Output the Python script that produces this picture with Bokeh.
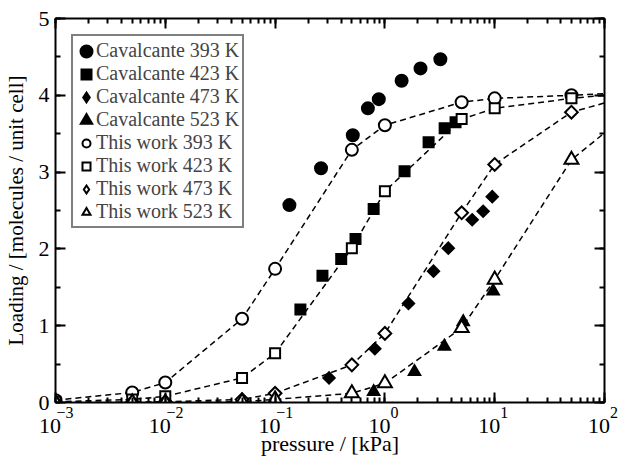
from bokeh.plotting import figure
from bokeh.models import (LogAxis, LinearAxis, LogTicker, SingleIntervalTicker, Range1d,
                          Legend, LegendItem, CustomJSTickFormatter)
from bokeh.embed import file_html
from bokeh.resources import INLINE
import math

FONT = "Liberation Serif"

# Cavalcante experimental isotherms: pressure [kPa], loading [molecules / unit cell]
cav_393_p = [0.135, 0.262, 0.51, 0.70, 0.88, 1.42, 2.11, 3.2]
cav_393_q = [2.57, 3.05, 3.48, 3.83, 3.95, 4.19, 4.35, 4.47]
cav_423_p = [0.17, 0.27, 0.40, 0.54, 0.79, 1.51, 2.5, 3.5, 4.4]
cav_423_q = [1.21, 1.65, 1.87, 2.13, 2.52, 3.01, 3.39, 3.57, 3.65]
cav_473_p = [0.31, 0.81, 1.64, 2.77, 3.78, 6.24, 7.85, 9.5]
cav_473_q = [0.32, 0.70, 1.29, 1.71, 2.01, 2.38, 2.49, 2.68]
cav_523_p = [0.79, 1.86, 3.48, 5.17, 9.68]
cav_523_q = [0.14, 0.40, 0.73, 1.05, 1.45]

# simulated isotherms (this work), common pressure grid
sim_p = [0.001, 0.005, 0.01, 0.05, 0.1, 0.5, 1, 5, 10, 50]
sim_393_q = [0.03, 0.13, 0.26, 1.09, 1.74, 3.29, 3.61, 3.91, 3.96, 4.00]
sim_423_q = [0.01, 0.04, 0.08, 0.32, 0.64, 2.01, 2.75, 3.69, 3.83, 3.96]
sim_473_q = [0.00, 0.005, 0.01, 0.04, 0.12, 0.49, 0.90, 2.47, 3.10, 3.78]
sim_523_q = [0.00, 0.00, 0.00, 0.01, 0.04, 0.12, 0.25, 0.97, 1.60, 3.16]

# the dashed guide lines continue to 100 kPa
line_end_p = 100
line_end_393 = 4.02
line_end_423 = 4.00
line_end_473 = 3.90
line_end_523 = 3.51

# x tick labels: base "10" with superscript exponent
decades = [1e-3, 1e-2, 1e-1, 1e0, 1e1, 1e2]
tick_base = ["10", "10", "10", "10", "10", "10"]
exponents = ["\u22123", "\u22122", "\u22121", "0", "1", "2"]

p = figure(width=621, height=458, x_axis_type="log",
           x_range=Range1d(1e-3, 1e2), y_range=Range1d(0, 5),
           output_backend="svg", toolbar_location=None,
           min_border_left=52, min_border_right=17,
           min_border_top=18, min_border_bottom=55)
p.xgrid.visible = False
p.ygrid.visible = False
p.outline_line_color = None
p.background_fill_color = "white"
p.border_fill_color = "white"

xticker = LogTicker(desired_num_ticks=6, num_minor_ticks=10)
yticker = SingleIntervalTicker(interval=1, num_minor_ticks=2)

# labels are centred on their tick; the pads move the base a little to the
# left of the tick and the exponent to its right
lookup_code = """
const k = Math.log10(tick);
for (let i = 0; i < dec.length; i++) {
  if (Math.abs(Math.log10(dec[i]) - k) < 1e-6) return before + lab[i] + after;
}
return "";
"""


def style_axis(ax, show_labels):
    ax.axis_line_width = 2
    ax.axis_line_color = "black"
    ax.major_tick_in = 10
    ax.major_tick_out = 0
    ax.minor_tick_in = 5
    ax.minor_tick_out = 0
    ax.major_tick_line_width = 2
    ax.minor_tick_line_width = 2
    ax.major_tick_line_color = "black"
    ax.minor_tick_line_color = "black"
    ax.major_label_text_font = FONT
    ax.axis_label_text_font = FONT
    ax.axis_label_text_font_style = "normal"
    ax.axis_label_text_color = "black"
    ax.major_label_text_color = "black"
    if not show_labels:
        ax.major_label_text_font_size = "1px"
        ax.major_label_text_color = None
        ax.major_label_standoff = 0


# bottom axis: frame line, ticks and the exponents
xb = p.xaxis[0]
xb.ticker = xticker
style_axis(xb, True)
xb.formatter = CustomJSTickFormatter(
    args=dict(dec=decades, lab=exponents, before="\u2003\u2009", after=""),
    code=lookup_code)
xb.major_label_text_font_size = "16px"
xb.major_label_standoff = 1

# second bottom axis: the "10" bases and the axis title
xb2 = LogAxis(ticker=xticker)
style_axis(xb2, True)
xb2.axis_line_color = None
xb2.major_tick_line_color = None
xb2.minor_tick_line_color = None
xb2.major_tick_in = 0
xb2.minor_tick_in = 0
xb2.formatter = CustomJSTickFormatter(
    args=dict(dec=decades, lab=tick_base, before="", after="\u2002\u2060"),
    code=lookup_code)
xb2.major_label_text_font_size = "22px"
xb2.major_label_standoff = -11
xb2.axis_label = "pressure / [kPa]"
xb2.axis_label_text_font_size = "22px"
xb2.axis_label_standoff = -10
p.add_layout(xb2, "below")

yl = p.yaxis[0]
yl.ticker = yticker
style_axis(yl, True)
yl.major_label_text_font_size = "22px"
yl.major_label_standoff = 6
yl.axis_label = "Loading / [molecules / unit cell]"
yl.axis_label_text_font_size = "21px"
yl.axis_label_standoff = 8

xt = LogAxis(ticker=xticker)
style_axis(xt, False)
p.add_layout(xt, "above")

yr = LinearAxis(ticker=yticker)
style_axis(yr, False)
p.add_layout(yr, "right")

# experimental points (filled symbols)
r_c393 = p.scatter(cav_393_p, cav_393_q, marker="circle", size=8, fill_color="black",
                   line_color="black", line_width=6)
r_c423 = p.scatter(cav_423_p, cav_423_q, marker="square", size=8, fill_color="black",
                   line_color="black", line_width=4, line_join="miter")
p.scatter(cav_473_p, cav_473_q, marker="square", angle=math.pi / 4, size=8,
          fill_color="black", line_color="black", line_width=2, line_join="miter")
r_c523 = p.scatter(cav_523_p, cav_523_q, marker="triangle", size=8, fill_color="black",
                   line_color="black", line_width=4, line_join="miter")

# simulated isotherms: dashed guide lines + open symbols
sim_sets = [
    (sim_393_q, line_end_393, dict(marker="circle", size=12)),
    (sim_423_q, line_end_423, dict(marker="square", size=10)),
    (sim_473_q, line_end_473, dict(marker="square", angle=math.pi / 4, size=9)),
    (sim_523_q, line_end_523, dict(marker="triangle", size=14)),
]
sim_renderers = []
for q, q_end, mk in sim_sets:
    p.line(sim_p + [line_end_p], q + [q_end], line_color="black", line_width=1.5,
           line_dash="6 4")
for q, q_end, mk in sim_sets:
    r = p.scatter(sim_p, q, fill_color="white", line_color="black", line_width=2,
                  line_join="miter", **mk)
    sim_renderers.append(r)

# hidden diamond renderers that supply the legend swatches
# (legend symbols are drawn unrotated)
key_c473 = p.scatter(cav_473_p, cav_473_q, marker="diamond", size=8, fill_color="black",
                     line_color="black", line_width=3, line_join="miter", visible=False)
key_s473 = p.scatter(sim_p, sim_473_q, marker="diamond", size=8, fill_color="white",
                     line_color="black", line_width=2, line_join="miter", visible=False)

labels = ["Cavalcante 393 K", "Cavalcante 423 K", "Cavalcante 473 K", "Cavalcante 523 K",
          "This work 393 K", "This work 423 K", "This work 473 K", "This work 523 K"]
renderers = [r_c393, r_c423, key_c473, r_c523,
             sim_renderers[0], sim_renderers[1], key_s473, sim_renderers[3]]
legend = Legend(items=[LegendItem(label=l, renderers=[r]) for l, r in zip(labels, renderers)],
                location="top_left", margin=16, padding=3, spacing=0,
                glyph_width=20, glyph_height=20, label_standoff=0,
                label_text_font=FONT, label_text_font_size="20px",
                border_line_color="black", border_line_width=2,
                background_fill_color="white", background_fill_alpha=1)
p.add_layout(legend)

open("out.html", "w").write(file_html(p, INLINE))
